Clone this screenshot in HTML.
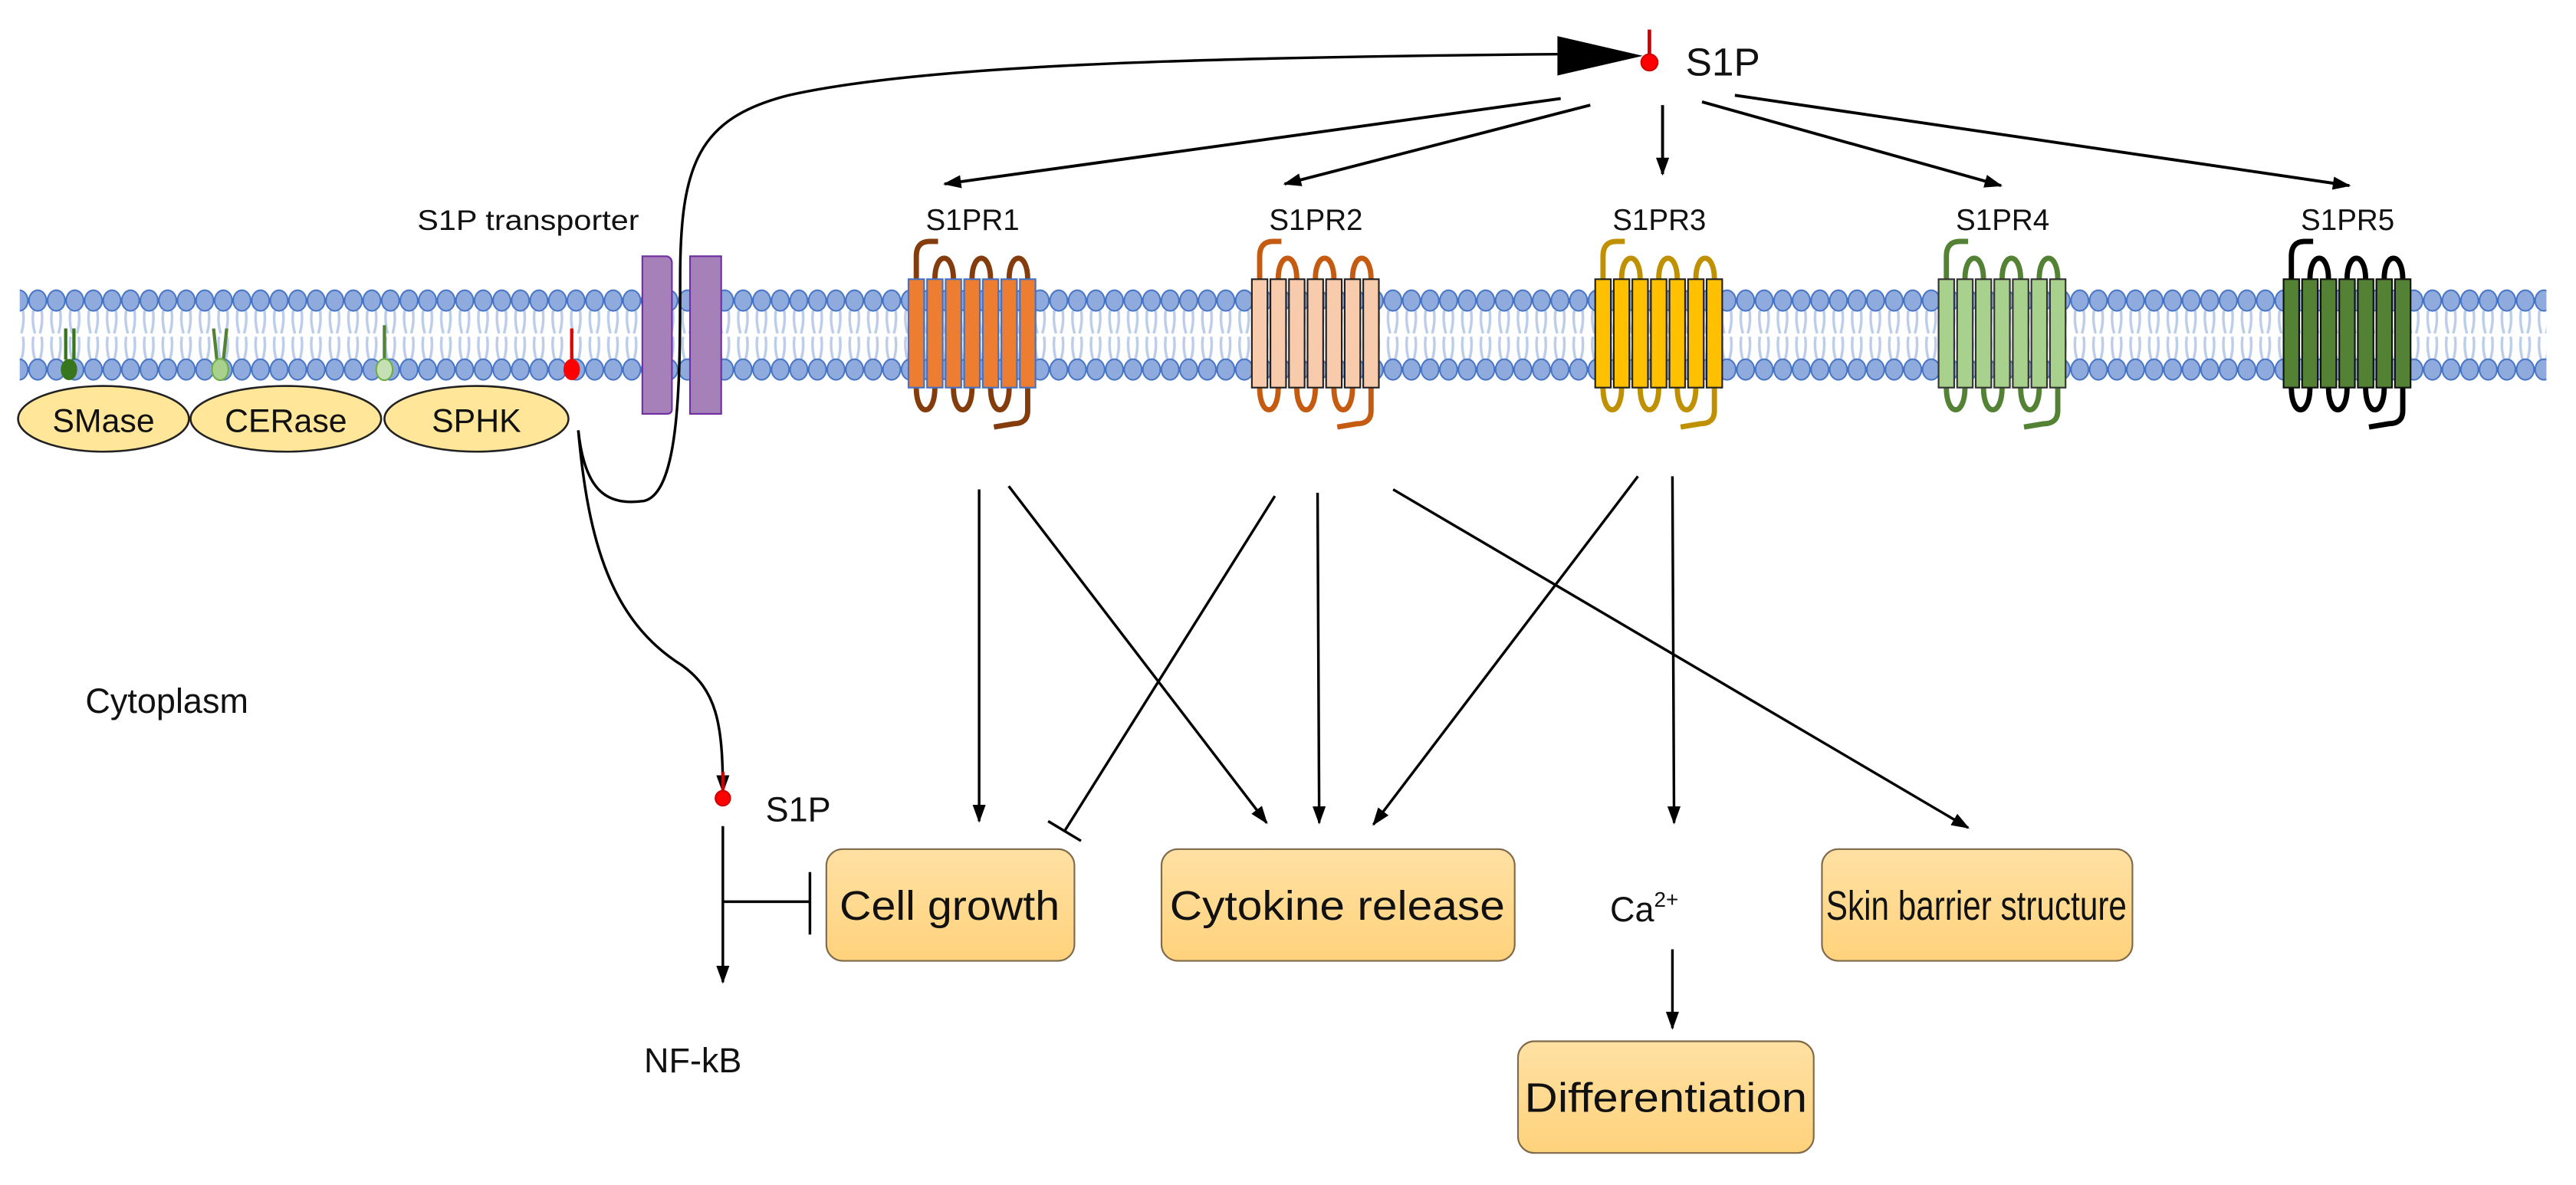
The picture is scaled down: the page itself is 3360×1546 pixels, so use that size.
<!DOCTYPE html>
<html><head><meta charset="utf-8"><style>
html,body{margin:0;padding:0;background:#fff;}
svg{display:block;}
text{font-family:"Liberation Sans",Arial,sans-serif;fill:#111;}
</style></head><body>
<svg width="3360" height="1546" viewBox="0 0 1568 721.5" preserveAspectRatio="none" xmlns="http://www.w3.org/2000/svg">
<defs>
<marker id="ah" markerUnits="userSpaceOnUse" markerWidth="12" markerHeight="10" refX="10" refY="4" orient="auto">
<path d="M0,0 L11,4 L0,8 Z" fill="#000"/>
</marker>
<pattern id="heads" x="6" y="176" width="11.3" height="42" patternUnits="userSpaceOnUse">
<ellipse cx="5.65" cy="7" rx="5.3" ry="6.3" fill="#8FAADC" stroke="#4472C4" stroke-width="0.9"/>
</pattern>
<pattern id="tails" x="6" y="189" width="11.3" height="30" patternUnits="userSpaceOnUse">
<path d="M3,0 Q2,7 4,14 M8,0 Q9,7 7,14 M3,16 Q2,23 4,30 M8,16 Q9,23 7,30" stroke="#BCCDEA" stroke-width="1.6" fill="none"/>
</pattern>
<linearGradient id="bx" x1="0" y1="0" x2="0" y2="1">
<stop offset="0" stop-color="#FFE1A3"/><stop offset="1" stop-color="#FFD27C"/>
</linearGradient>
<g id="rec">
<g fill="none" stroke="var(--l)" stroke-width="3.2">
<path d="M4.75,0 L4.75,-14 Q4.75,-23 13,-23 L18,-23"/>
<path d="M16.05,0 C16.05,-17 27.35,-17 27.35,0"/>
<path d="M38.65,0 C38.65,-17 49.95,-17 49.95,0"/>
<path d="M61.25,0 C61.25,-17 72.55,-17 72.55,0"/>
<path d="M4.75,66 C4.75,84 16.05,84 16.05,66"/>
<path d="M27.35,66 C27.35,84 38.65,84 38.65,66"/>
<path d="M49.95,66 C49.95,84 61.25,84 61.25,66"/>
<path d="M72.55,66 L72.55,80 Q72.55,88 64,88 L52,90"/>
</g>
<g fill="var(--f)" stroke="var(--s)" stroke-width="1">
<rect x="0" y="0" width="9.5" height="66"/><rect x="11.3" y="0" width="9.5" height="66"/>
<rect x="22.6" y="0" width="9.5" height="66"/><rect x="33.9" y="0" width="9.5" height="66"/>
<rect x="45.2" y="0" width="9.5" height="66"/><rect x="56.5" y="0" width="9.5" height="66"/>
<rect x="67.8" y="0" width="9.5" height="66"/>
</g>
</g>
</defs>

<rect x="12" y="189" width="1538" height="30" fill="url(#tails)"/>
<rect x="12" y="176" width="1538" height="14" fill="url(#heads)"/>
<rect x="12" y="218" width="1538" height="14" fill="url(#heads)"/>

<g stroke-width="2" fill="none">
<path d="M40,219 L40,200 M45,219 L45,200" stroke="#38761D"/>
<path d="M132,219 L130,200 M136,219 L138,200" stroke="#548235"/>
<path d="M234,219 L234,198" stroke="#548235"/>
<path d="M348,219 L348,200" stroke="#E00000"/>
</g>
<ellipse cx="42" cy="225" rx="5" ry="6.5" fill="#38761D"/>
<ellipse cx="134" cy="225" rx="5" ry="6.5" fill="#A9D18E" stroke="#70AD47"/>
<ellipse cx="234" cy="225" rx="5" ry="6.5" fill="#C5E0B4" stroke="#70AD47"/>
<ellipse cx="348" cy="225" rx="5" ry="6.5" fill="#FF0000"/>

<g fill="#FFE699" stroke="#222" stroke-width="1.2">
<ellipse cx="63" cy="255" rx="52" ry="20"/>
<ellipse cx="174" cy="255" rx="58" ry="20"/>
<ellipse cx="290" cy="255" rx="56" ry="20"/>
</g>
<text x="63" y="263" font-size="20" text-anchor="middle">SMase</text>
<text x="174" y="263" font-size="20" text-anchor="middle">CERase</text>
<text x="290" y="263" font-size="20" text-anchor="middle">SPHK</text>

<g fill="#A680B8" stroke="#7030A0" stroke-width="1">
<path d="M391,156 L406,156 Q409,157 409,160 L409,249 Q409,252 406,252 L391,252 Z"/>
<rect x="420" y="156" width="19" height="96"/>
</g>
<text x="254" y="140" font-size="17.5" textLength="135" lengthAdjust="spacingAndGlyphs">S1P transporter</text>

<use href="#rec" x="553" y="170" style="--f:#ED7D31;--s:#4472C4;--l:#843C0C"/>
<use href="#rec" x="762" y="170" style="--f:#F8CBAD;--s:#222;--l:#C55A11"/>
<use href="#rec" x="971" y="170" style="--f:#FFC000;--s:#222;--l:#BF9000"/>
<use href="#rec" x="1180" y="170" style="--f:#A9D18E;--s:#333;--l:#548235"/>
<use href="#rec" x="1390" y="170" style="--f:#548235;--s:#111;--l:#000"/>
<g font-size="18" text-anchor="middle">
<text x="592" y="140">S1PR1</text>
<text x="801" y="140">S1PR2</text>
<text x="1010" y="140">S1PR3</text>
<text x="1219" y="140">S1PR4</text>
<text x="1429" y="140">S1PR5</text>
</g>

<path d="M1004,18 L1004,33" stroke="#D00000" stroke-width="2.2"/>
<circle cx="1004" cy="38" r="5" fill="#FF0000" stroke="#D00000"/>
<text x="1026" y="46" font-size="24">S1P</text>
<path d="M948,22 L948,46 L1000,34 Z" fill="#000"/>

<g fill="none" stroke="#000" stroke-width="1.6">
<path d="M352,262 C356,300 370,308 392,305 C414,300 414,230 414,170 C414,100 425,72 480,58 C560,40 720,35 948,33"/>
<path d="M352,262 C358,330 372,378 415,405 C436,420 440,440 440,482" marker-end="url(#ah)"/>
</g>

<g stroke="#000" stroke-width="1.8" fill="none" marker-end="url(#ah)">
<path d="M950,60 L575,112"/>
<path d="M968,64 L782,112"/>
<path d="M1012,64 L1012,106"/>
<path d="M1036,62 L1218,113"/>
<path d="M1056,58 L1430,113"/>
</g>

<g stroke="#000" stroke-width="1.6" fill="none">
<path d="M596,298 L596,500" marker-end="url(#ah)"/>
<path d="M614,296 L771,501" marker-end="url(#ah)"/>
<path d="M776,302 L648,506"/>
<path d="M638,500 L658,512"/>
<path d="M802,300 L803,501" marker-end="url(#ah)"/>
<path d="M848,298 L1198,504" marker-end="url(#ah)"/>
<path d="M997,290 L836,502" marker-end="url(#ah)"/>
<path d="M1018,290 L1019,501" marker-end="url(#ah)"/>
<path d="M1018,578 L1018,626" marker-end="url(#ah)"/>
<path d="M440,503 L440,598" marker-end="url(#ah)"/>
<path d="M440,549 L493,549"/>
<path d="M493,531 L493,569"/>
</g>

<path d="M440,470 L440,482" stroke="#D00000" stroke-width="2"/>
<circle cx="440" cy="486" r="4.5" fill="#FF0000" stroke="#D00000"/>
<text x="466" y="500" font-size="21">S1P</text>
<text x="392" y="653" font-size="21">NF-kB</text>
<text x="52" y="434" font-size="21">Cytoplasm</text>
<text x="980" y="561" font-size="21">Ca<tspan font-size="13" dy="-9">2+</tspan></text>

<g fill="url(#bx)" stroke="#7F6A4A" stroke-width="1">
<rect x="503" y="517" width="151" height="68" rx="10"/>
<rect x="707" y="517" width="215" height="68" rx="10"/>
<rect x="1109" y="517" width="189" height="68" rx="10"/>
<rect x="924" y="634" width="180" height="68" rx="10"/>
</g>
<g font-size="25" text-anchor="middle">
<text x="578" y="560" textLength="134" lengthAdjust="spacingAndGlyphs">Cell growth</text>
<text x="814" y="560" textLength="204" lengthAdjust="spacingAndGlyphs">Cytokine release</text>
<text x="1203" y="560" textLength="183" lengthAdjust="spacingAndGlyphs">Skin barrier structure</text>
<text x="1014" y="677" textLength="172" lengthAdjust="spacingAndGlyphs">Differentiation</text>
</g>
</svg>
</body></html>
